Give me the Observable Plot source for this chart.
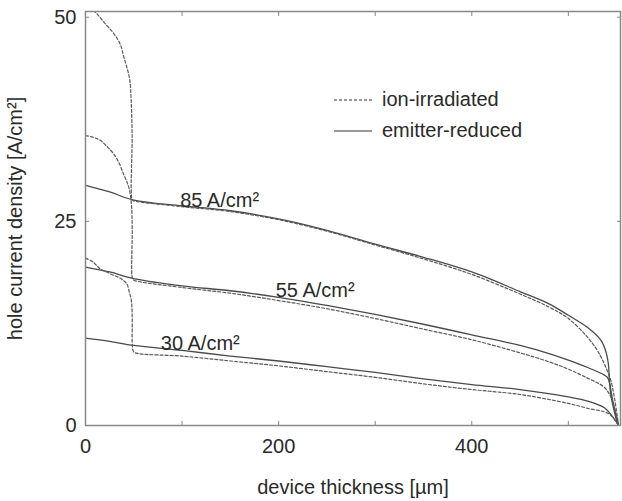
<!DOCTYPE html>
<html><head><meta charset="utf-8">
<script src="https://cdn.jsdelivr.net/npm/d3@7"></script>
<script src="https://cdn.jsdelivr.net/npm/@observablehq/plot@0.6"></script>
<style>
body{margin:0;background:#fff;}
#wrap{position:relative;width:622px;height:501px;font-family:"Liberation Sans",Arial,sans-serif;color:#2a2a2a;}
#legend{position:absolute;left:334px;top:84px;font-size:20px;line-height:31px;}
#legend div{display:flex;align-items:center;}
#legend svg{margin-right:10px;}
</style></head><body><div id="wrap"></div>
<script>
// 85 A/cm2
const solid85X = [0, 25, 50, 100, 150, 200, 250, 300, 350, 400, 450, 480, 500, 520, 534, 539, 541.5, 542.5, 544, 547, 550, 552];
const solid85Y = [29.4, 28.6, 27.6, 26.9, 26.3, 25.3, 23.9, 22.2, 20.6, 18.8, 16.4, 14.9, 13.5, 12.0, 10.4, 9.0, 7.5, 5.5, 3.8, 2.0, 0.6, 0];
const dash85X = [8, 10.4, 19, 29.3, 36.3, 39.7, 43.2, 45.9, 47.3, 48.3, 48.5, 50, 100, 150, 200, 250, 300, 350, 400, 450, 480, 500, 520, 530, 537, 544, 548, 552];
const dash85Y = [50.8, 50.6, 49.4, 48.0, 46.6, 45.1, 43.7, 42.3, 39.8, 35.6, 27.6, 27.5, 26.8, 26.2, 25.2, 23.8, 22.1, 20.4, 18.5, 16.1, 14.5, 13.1, 10.8, 9.2, 7.6, 5.5, 3.2, 0];
// 55 A/cm2
const solid55X = [0, 25, 50, 100, 150, 200, 250, 300, 350, 400, 450, 480, 500, 520, 537, 541, 546, 552];
const solid55Y = [19.4, 18.8, 18.0, 17.1, 16.5, 15.7, 14.7, 13.6, 12.4, 11.1, 9.8, 8.8, 8.0, 7.1, 6.2, 5.8, 3.0, 0];
const dash55X = [0, 8, 15.5, 22, 29, 35, 39, 43, 45.6, 47.6, 48.4, 48.6, 50, 100, 150, 200, 250, 300, 350, 400, 450, 480, 500, 520, 537, 544, 548, 552];
const dash55Y = [35.5, 35.3, 34.9, 34.2, 33.3, 32.1, 30.9, 29.8, 28.8, 27.0, 24.0, 18.0, 17.8, 16.9, 16.2, 15.3, 14.3, 13.1, 11.8, 10.5, 8.9, 7.8, 6.9, 5.8, 4.7, 3.5, 2.0, 0];
// 30 A/cm2
const solid30X = [0, 25, 50, 100, 150, 200, 250, 300, 350, 400, 450, 500, 520, 537, 545, 552];
const solid30Y = [10.7, 10.3, 9.8, 9.2, 8.5, 7.9, 7.2, 6.5, 5.7, 5.0, 4.4, 3.5, 3.0, 2.2, 1.2, 0];
const dash30X = [0, 8, 15, 22, 29, 35, 39, 43, 45, 47.5, 48.4, 48.6, 50, 55, 100, 150, 200, 250, 300, 350, 400, 450, 500, 520, 541, 548, 552];
const dash30Y = [20.5, 20.0, 19.2, 18.8, 18.4, 18.1, 17.8, 17.3, 16.5, 15.3, 13.0, 9.6, 9.0, 8.8, 8.5, 7.9, 7.3, 6.6, 5.9, 5.1, 4.4, 3.8, 2.7, 2.1, 1.5, 0.7, 0];

const curveLabels = ["85 A/cm²", "55 A/cm²", "30 A/cm²"];
const labelX = [98, 197, 78];
const labelY = [26.7, 15.7, 9.2];

const xTicks = [0, 200, 400];
const xMinorTicks = [0, 100, 200, 300, 400, 500];
const yTicks = [0, 25, 50];

function rows(xs, ys, key, kind) { return xs.map((x, i) => ({x, y: ys[i], key, kind})); }
const data = [
  ...rows(solid85X, solid85Y, "85", "solid"), ...rows(dash85X, dash85Y, "85", "dash"),
  ...rows(solid55X, solid55Y, "55", "solid"), ...rows(dash55X, dash55Y, "55", "dash"),
  ...rows(solid30X, solid30Y, "30", "solid"), ...rows(dash30X, dash30Y, "30", "dash")
];
const labels = curveLabels.map((t, i) => ({t, x: labelX[i], y: labelY[i]}));

const lineColor = "#4a4a4a";
const chart = Plot.plot({
  width: 622, height: 501,
  marginLeft: 85, marginRight: 2, marginTop: 11, marginBottom: 76,
  style: {fontFamily: "Liberation Sans, Arial, sans-serif", fontSize: "20px", color: "#2a2a2a", background: "#fff"},
  x: {domain: [0, 554]},
  y: {domain: [0, 50.7]},
  marks: [
    Plot.line(data.filter(d => d.kind === "solid"), {x: "x", y: "y", z: "key", stroke: lineColor, strokeWidth: 1.3, curve: "catmull-rom", clip: true}),
    Plot.line(data.filter(d => d.kind === "dash"), {x: "x", y: "y", z: "key", stroke: "#5a5a5a", strokeWidth: 1.2, strokeDasharray: "3,2", curve: "catmull-rom", clip: true}),
    Plot.text(labels, {x: "x", y: "y", text: "t", textAnchor: "start", lineAnchor: "bottom", fontSize: 20, fill: "#2a2a2a"}),
    Plot.axisX({anchor: "bottom", ticks: xTicks, tickSize: 0, tickPadding: 13, label: "device thickness [µm]", labelAnchor: "center", labelArrow: "none", labelOffset: 68, fontSize: 20}),
    Plot.axisX({anchor: "bottom", ticks: xMinorTicks, tickSize: 4, dy: -4, fill: "none", stroke: "#888", label: null}),
    Plot.axisX({anchor: "top", ticks: xMinorTicks, tickSize: 4, dy: 4, fill: "none", stroke: "#888", label: null}),
    Plot.axisY({anchor: "left", ticks: yTicks, tickSize: 0, tickPadding: 9, label: "hole current density [A/cm²]", labelAnchor: "center", labelOffset: 78, labelArrow: "none", fontSize: 20}),
    Plot.axisY({anchor: "left", ticks: yTicks, tickSize: 4, dx: 4, fill: "none", stroke: "#888", label: null}),
    Plot.axisY({anchor: "right", ticks: yTicks, tickSize: 4, dx: -4, fill: "none", stroke: "#888", label: null}),
    Plot.frame({stroke: "#888", strokeWidth: 1.5})
  ]
});
const wrap = document.getElementById("wrap");
wrap.appendChild(chart);

const legendNames = ["ion-irradiated", "emitter-reduced"];
const legendDash = ["3,2", null];
const leg = document.createElement("div");
leg.id = "legend";
legendNames.forEach((n, i) => {
  const row = document.createElement("div");
  row.innerHTML = `<svg width="38" height="4"><line x1="0" x2="38" y1="2" y2="2" stroke="#777" stroke-width="1.3" ${legendDash[i] ? `stroke-dasharray="${legendDash[i]}"` : ""}/></svg><span>${n}</span>`;
  leg.appendChild(row);
});
wrap.appendChild(leg);
</script></body></html>
